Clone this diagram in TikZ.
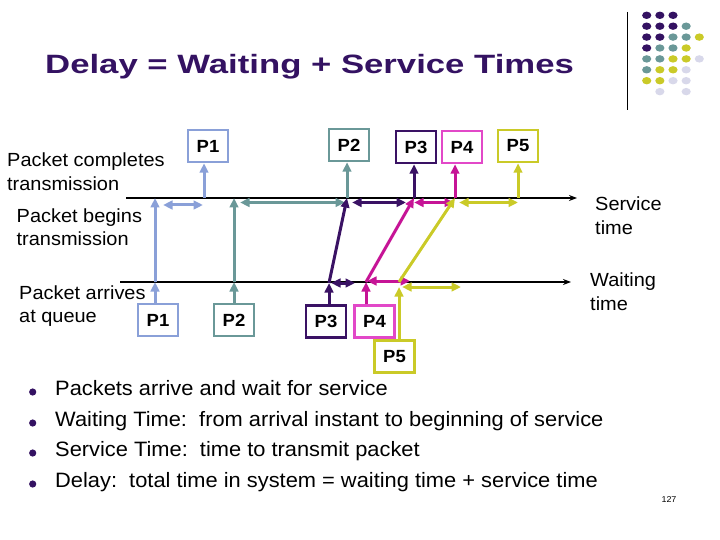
\documentclass[tikz,border=0pt]{standalone}
\usepackage{fontspec}
\setmainfont[FakeStretch=1.05]{Liberation Sans}
\newfontfamily\titlefont[FakeStretch=1.31]{Liberation Sans}
\usetikzlibrary{arrows.meta,positioning}
\definecolor{xplum}{RGB}{52,18,98}
\definecolor{xsky}{RGB}{138,160,216}
\definecolor{xteal}{RGB}{106,152,152}
\definecolor{xgrape}{RGB}{58,18,100}
\definecolor{xmagenta}{RGB}{198,20,150}
\definecolor{xpink}{RGB}{226,72,200}
\definecolor{xolive}{RGB}{202,202,40}
\definecolor{xlilac}{RGB}{216,216,234}

\begin{document}
\begin{tikzpicture}[x=1pt, y=-1pt,
  pbox/.style={draw=#1, fill=white, line width=2.5pt,
               minimum width=40pt, minimum height=32pt, inner sep=0pt,
               font=\fontsize{17.6}{20}\selectfont\bfseries},
  arr/.style={-{Triangle[length=9.5pt,width=8.5pt]}, line width=3pt, color=#1},
  darr/.style={{Triangle[length=9.5pt,width=8.5pt]}-{Triangle[length=9.5pt,width=8.5pt]},
               line width=3pt, color=#1},
  tline/.style={-{Stealth[length=8pt,width=6pt]}, line width=1.8pt, color=black},
  note/.style={font=\fontsize{19}{23.5}\selectfont, align=left, inner sep=0pt, anchor=west},
  item/.style={font=\fontsize{20.8}{25}\selectfont, inner sep=0pt, anchor=base west}
]
  \useasboundingbox (0,0) rectangle (720,540);

  % title and corner mark
  \node[anchor=base west, inner sep=0pt, text=xplum,
        font=\titlefont\bfseries\fontsize{26.5}{30}\selectfont] (title) at (45,74)
    {Delay = Waiting + Service Times};
  \draw[line width=1pt] (627,12) -- (627,110);
  \foreach \c/\r/\col in {0/0/xplum,1/0/xplum,2/0/xplum,
      0/1/xplum,1/1/xplum,2/1/xplum,3/1/xteal,
      0/2/xplum,1/2/xplum,2/2/xteal,3/2/xteal,4/2/xolive,
      0/3/xplum,1/3/xteal,2/3/xteal,3/3/xolive,
      0/4/xteal,1/4/xteal,2/4/xolive,3/4/xolive,4/4/xlilac,
      0/5/xteal,1/5/xolive,2/5/xolive,3/5/xlilac,
      0/6/xolive,1/6/xolive,2/6/xlilac,3/6/xlilac,
      1/7/xlilac,3/7/xlilac}
    \fill[\col] (646.7+13.15*\c, 15.3+10.9*\r) ellipse [x radius=4.6pt, y radius=3.7pt];

  % time lines
  \node[note] (lcomp) at (7,171.75) {Packet completes\\transmission};
  \node[note] (lbeg)  at (16.5,227) {Packet begins\\transmission};
  \node[note] (larr)  at (19,306.3) {Packet arrives\\at queue};
  \node[note] (lsvc)  at (595,215.5) {Service\\time};
  \node[note] (lwait) at (590,291.5) {Waiting\\time};

  \coordinate (svL) at (126,198); \coordinate (svR) at (577,198);
  \coordinate (wtL) at (120,282); \coordinate (wtR) at (571,282);
  \draw[tline] (svL) -- (svR);
  \draw[tline] (wtL) -- (wtR);

  % packets
  \node[pbox=xsky]   (arv1) at (158,320)   {P1};
  \node[pbox=xteal]  (arv2) at (234,320)   {P2};
  \node[pbox=xgrape] (arv3) at (326,321.5) {P3};
  \node[pbox=xpink]  (arv4) at (374.5,321.5) {P4};
  \node[pbox=xolive] (arv5) at (394.5,356.3) {P5};

  \node[pbox=xsky]   (dep1) at (208,146) {P1};
  \node[pbox=xteal]  (dep2) at (349,145) {P2};
  \node[pbox=xgrape] (dep3) at (416,147) {P3};
  \node[pbox=xpink]  (dep4) at (462,147) {P4};
  \node[pbox=xolive] (dep5) at (518,146) {P5};

  \coordinate (w1) at (155,282); \coordinate (s1) at (155,198); \coordinate (e1) at (204,198);
  \coordinate (w2) at (234,282); \coordinate (s2) at (234,198);
  \coordinate (w3) at (329,283); \coordinate (s3) at (347,198);
  \coordinate (w4) at (366,282); \coordinate (s4) at (414,198);
  \coordinate (w5) at (399,282); \coordinate (s5) at (455,198); \coordinate (e5) at (518,198);

  % P1
  \draw[arr=xsky] (arv1.north -| w1) -- (w1);
  \draw[arr=xsky] (w1) -- (s1);
  \draw[darr=xsky] ([shift={(8,7)}]s1) -- ([shift={(-1,7)}]e1);
  \draw[arr=xsky] (e1) -- (dep1.south -| e1);
  % P2
  \draw[arr=xteal] (arv2.north -| w2) -- (w2);
  \draw[arr=xteal] (w2) -- (s2);
  \draw[darr=xteal] ([shift={(6,4.5)}]s2) -- ([shift={(-2,4.5)}]s3);
  \draw[arr=xteal] (s3) -- (dep2.south -| s3);
  % P3
  \draw[arr=xgrape] (arv3.north -| w3) -- (w3);
  \draw[darr=xgrape] ([shift={(2,0)}]w3) -- ([shift={(26,0)}]w3);
  \draw[arr=xgrape] (w3) -- (s3);
  \draw[darr=xgrape] ([shift={(5,4.5)}]s3) -- ([shift={(-8,4.5)}]s4);
  \draw[arr=xgrape] (s4) -- (dep3.south -| s4);
  % P4
  \draw[arr=xmagenta] (arv4.north -| w4) -- (w4);
  \draw[darr=xmagenta] ([shift={(1,-1)}]w4) -- ([shift={(44,-1)}]w4);
  \draw[arr=xmagenta] (w4) -- (s4);
  \draw[darr=xmagenta] ([shift={(0,4.5)}]s4) -- ([shift={(-1,4.5)}]s5);
  \draw[arr=xmagenta] (s5) -- (dep4.south -| s5);
  % P5
  \draw[arr=xolive] (arv5.north -| w5) -- ([shift={(0,5)}]w5);
  \draw[darr=xolive] ([shift={(3,5)}]w5) -- ([shift={(62,5)}]w5);
  \draw[arr=xolive] (w5) -- (s5);
  \draw[darr=xolive] ([shift={(4,4.5)}]s5) -- ([shift={(0,4.5)}]e5);
  \draw[arr=xolive] (e5) -- (dep5.south -| e5);

  % bullet list
  \fill[xplum] (32.7,392) circle[radius=3.6pt];
  \fill[xplum] (32.7,423) circle[radius=3.6pt];
  \fill[xplum] (32.7,453) circle[radius=3.6pt];
  \fill[xplum] (32.7,484) circle[radius=3.6pt];
  \node[item] (pt1) at (55,395) {Packets arrive and wait for service};
  \node[item] (pt2) at (55,426) {Waiting Time:\ \ from arrival instant to beginning of service};
  \node[item] (pt3) at (55,456) {Service Time:\ \ time to transmit packet};
  \node[item] (pt4) at (55,487) {Delay:\ \ total time in system = waiting time + service time};
  \node[font=\fontsize{8.5}{10}\selectfont, inner sep=0pt] (page) at (669,500) {127};
\end{tikzpicture}
\end{document}
